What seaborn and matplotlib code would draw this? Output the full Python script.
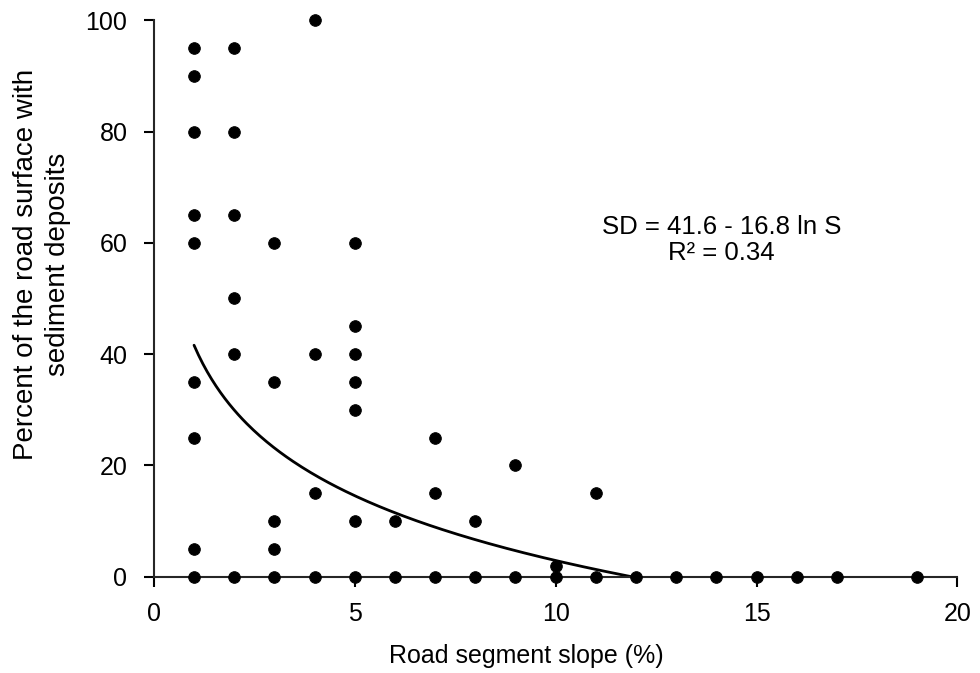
import numpy as np
import pandas as pd
import matplotlib
matplotlib.use('Agg')
import matplotlib.pyplot as plt
import seaborn as sns

# slope (%) and percent of surface with sediment deposits
slope = [1, 1, 1, 1, 1, 1, 1, 1, 1,
         2, 2, 2, 2, 2, 2,
         3, 3, 3, 3, 3,
         4, 4, 4, 4,
         5, 5, 5, 5, 5, 5, 5,
         6, 6, 7, 7, 7, 8, 8, 9, 9, 10, 10, 11, 11,
         12, 13, 14, 15, 16, 17, 19]
deposits = [0, 5, 25, 35, 60, 65, 80, 90, 95,
            0, 40, 50, 65, 80, 95,
            0, 5, 10, 35, 60,
            0, 15, 40, 100,
            0, 10, 30, 35, 40, 45, 60,
            0, 10, 0, 15, 25, 0, 10, 0, 20, 0, 2, 0, 15,
            0, 0, 0, 0, 0, 0, 0]

df = pd.DataFrame({'slope': slope, 'deposits': deposits})

sns.set_style('ticks')
plt.rcParams['font.family'] = ['Liberation Sans', 'DejaVu Sans']
plt.rcParams['text.color'] = 'black'
plt.rcParams['axes.labelcolor'] = 'black'

fig = plt.figure(figsize=(9.8, 6.73), dpi=100)
ax = fig.add_axes([0.157, 0.143, 0.82, 0.827])

# fitted curve SD = 41.6 - 16.8 ln S
s_fit = np.linspace(1, np.exp(41.6 / 16.8), 200)
fit = pd.DataFrame({'slope': s_fit, 'sd': 41.6 - 16.8 * np.log(s_fit)})
sns.lineplot(data=fit, x='slope', y='sd', color='black', linewidth=2, ax=ax)

sns.scatterplot(data=df, x='slope', y='deposits', color='black', s=70,
                edgecolor='black', ax=ax, zorder=3, clip_on=False)

ax.set_xlim(0, 20)
ax.set_ylim(0, 100)
ax.set_xticks([0, 5, 10, 15, 20])
ax.set_yticks([0, 20, 40, 60, 80, 100])
ax.tick_params(labelsize=18, width=1.5, length=7, colors='black')
ax.tick_params(axis='x', pad=11)
ax.tick_params(axis='y', pad=12)
for sp in ['left', 'bottom']:
    ax.spines[sp].set_linewidth(1.5)
sns.despine(ax=ax)

ax.set_xlabel('Road segment slope (%)', fontsize=18)
ax.xaxis.set_label_coords(0.463, -0.12)
ax.set_ylabel('Percent of the road surface with\nsediment deposits', fontsize=20,
              linespacing=1.3)
ax.yaxis.set_label_coords(-0.103, 0.562)

ax.text(14.12, 60.5, 'SD = 41.6 - 16.8 ln S\nR² = 0.34', fontsize=18.5,
        ha='center', va='center', linespacing=1.15)

fig.savefig('out.png', dpi=100)
